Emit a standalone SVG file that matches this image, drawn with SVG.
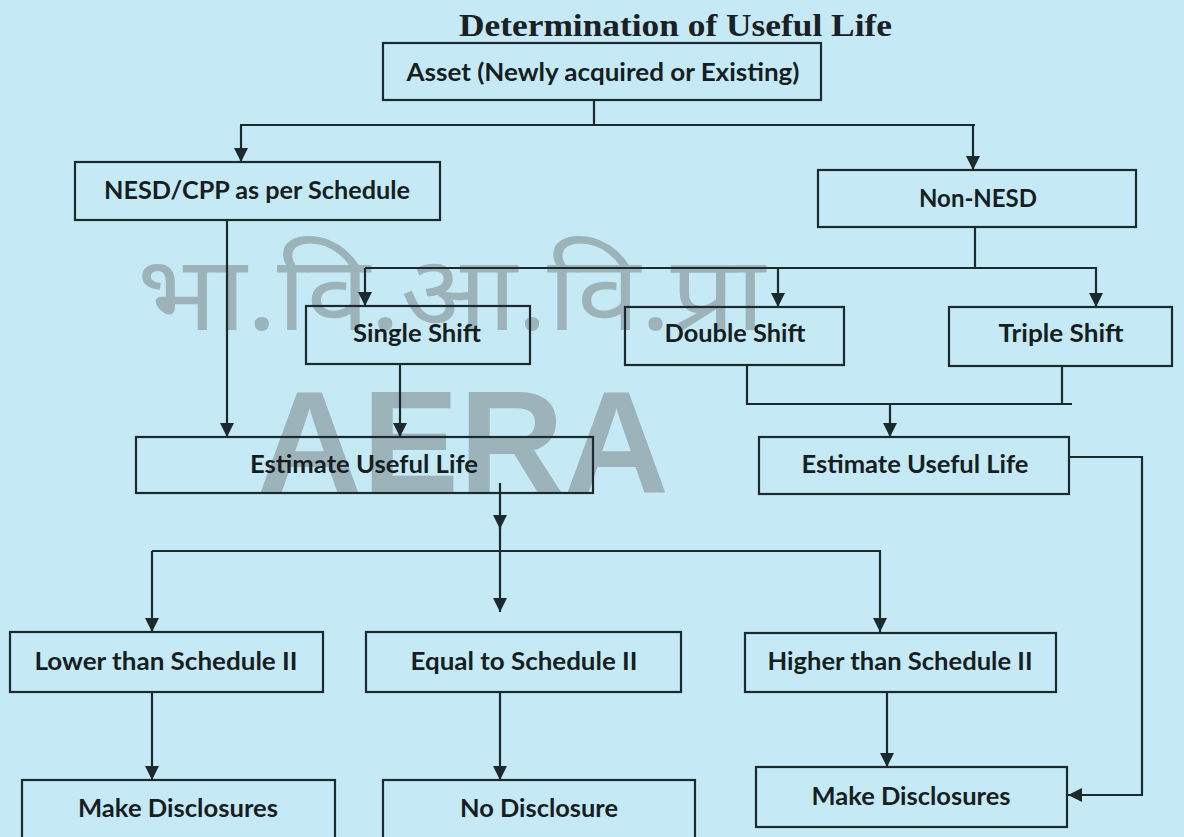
<svg xmlns="http://www.w3.org/2000/svg" width="1184" height="837" viewBox="0 0 1184 837">
<style>
.bg{fill:#c5eaf5}
.box{fill:none;stroke:#1c2a30;stroke-width:2.2}
.lbl{font-family:Lato,"Liberation Sans",sans-serif;font-weight:700;font-size:24px;fill:#161e22;text-anchor:middle}
.title{font-family:"Liberation Serif",serif;font-weight:700;font-size:31px;fill:#1a2024;text-anchor:middle}
.con{fill:none;stroke:#1c2a30;stroke-width:2.2}
.wm{fill:#8e9ea4;opacity:0.72}
</style>
<defs>
<marker id="ah" markerUnits="userSpaceOnUse" markerWidth="14" markerHeight="16" refX="14" refY="7" orient="auto">
<path d="M0,0 L14,7 L0,14 Z" fill="#1c2a30"/>
</marker>
</defs>
<rect class="bg" x="0" y="0" width="1184" height="837"/>
<g id="watermark">
<text class="wm" x="451" y="330" font-family="'Noto Sans Devanagari','Noto Sans',sans-serif" font-size="104" text-anchor="middle" textLength="628" lengthAdjust="spacingAndGlyphs">भा.वि.आ.वि.प्रा</text>
<text class="wm" x="463" y="492" font-family="'Liberation Sans',sans-serif" font-weight="700" font-size="144" text-anchor="middle" textLength="412" lengthAdjust="spacingAndGlyphs">AERA</text>
</g>
<text class="title" x="675.5" y="36" textLength="433" lengthAdjust="spacingAndGlyphs">Determination of Useful Life</text>
<g id="connectors">
<path class="con" d="M594,100 V125"/>
<path class="con" d="M240,125 H975"/>
<path class="con" d="M241,125 V162" marker-end="url(#ah)"/>
<path class="con" d="M973,125 V170" marker-end="url(#ah)"/>
<path class="con" d="M975,227 V268"/>
<path class="con" d="M365,268 H1097"/>
<path class="con" d="M365,268 V306" marker-end="url(#ah)"/>
<path class="con" d="M778,268 V307" marker-end="url(#ah)"/>
<path class="con" d="M1096,268 V307" marker-end="url(#ah)"/>
<path class="con" d="M227,220 V437" marker-end="url(#ah)"/>
<path class="con" d="M400,364 V437" marker-end="url(#ah)"/>
<path class="con" d="M747,365 V404 H1072"/>
<path class="con" d="M1062,366 V404"/>
<path class="con" d="M890,404 V437" marker-end="url(#ah)"/>
<path class="con" d="M1069,457 H1142 V795 H1068" marker-end="url(#ah)"/>
<path class="con" d="M500,483 V529" marker-end="url(#ah)"/>
<path class="con" d="M500,520 V551"/>
<path class="con" d="M152,551 H881"/>
<path class="con" d="M500,551 V612" marker-end="url(#ah)"/>
<path class="con" d="M152,551 V632" marker-end="url(#ah)"/>
<path class="con" d="M880,551 V632" marker-end="url(#ah)"/>
<path class="con" d="M152,692 V780" marker-end="url(#ah)"/>
<path class="con" d="M500,692 V780" marker-end="url(#ah)"/>
<path class="con" d="M887,692 V767" marker-end="url(#ah)"/>
</g>
<g id="asset"><rect class="box" x="383" y="43" width="438" height="57"/><text class="lbl" x="603" y="81" textLength="393" lengthAdjust="spacingAndGlyphs">Asset (Newly acquired or Existing)</text></g>
<g id="nesd"><rect class="box" x="75" y="162" width="365" height="58"/><text class="lbl" x="257" y="199" textLength="306" lengthAdjust="spacingAndGlyphs">NESD/CPP as per Schedule</text></g>
<g id="nonnesd"><rect class="box" x="818" y="170" width="318" height="57"/><text class="lbl" x="978" y="207" textLength="118" lengthAdjust="spacingAndGlyphs">Non-NESD</text></g>
<g id="single"><rect class="box" x="306" y="306" width="224" height="58"/><text class="lbl" x="417" y="342" textLength="128" lengthAdjust="spacingAndGlyphs">Single Shift</text></g>
<g id="double"><rect class="box" x="625" y="307" width="219" height="58"/><text class="lbl" x="735" y="342" textLength="141" lengthAdjust="spacingAndGlyphs">Double Shift</text></g>
<g id="triple"><rect class="box" x="949" y="307" width="223" height="59"/><text class="lbl" x="1061" y="342" textLength="125" lengthAdjust="spacingAndGlyphs">Triple Shift</text></g>
<g id="estimate-left"><rect class="box" x="136" y="437" width="457" height="56"/><text class="lbl" x="364" y="473" textLength="228" lengthAdjust="spacingAndGlyphs">Estimate Useful Life</text></g>
<g id="estimate-right"><rect class="box" x="759" y="437" width="310" height="57"/><text class="lbl" x="915" y="473" textLength="227" lengthAdjust="spacingAndGlyphs">Estimate Useful Life</text></g>
<g id="lower"><rect class="box" x="10" y="632" width="313" height="60"/><text class="lbl" x="166" y="670" textLength="263" lengthAdjust="spacingAndGlyphs">Lower than Schedule II</text></g>
<g id="equal"><rect class="box" x="366" y="632" width="315" height="60"/><text class="lbl" x="524" y="670" textLength="227" lengthAdjust="spacingAndGlyphs">Equal to Schedule II</text></g>
<g id="higher"><rect class="box" x="745" y="633" width="311" height="59"/><text class="lbl" x="900" y="670" textLength="265" lengthAdjust="spacingAndGlyphs">Higher than Schedule II</text></g>
<g id="disclose-left"><rect class="box" x="22" y="780" width="313" height="80"/><text class="lbl" x="178" y="817" textLength="200" lengthAdjust="spacingAndGlyphs">Make Disclosures</text></g>
<g id="no-disclosure"><rect class="box" x="383" y="780" width="312" height="80"/><text class="lbl" x="539" y="817" textLength="158" lengthAdjust="spacingAndGlyphs">No Disclosure</text></g>
<g id="disclose-right"><rect class="box" x="756" y="767" width="311" height="60"/><text class="lbl" x="911" y="805" textLength="199" lengthAdjust="spacingAndGlyphs">Make Disclosures</text></g>
</svg>
